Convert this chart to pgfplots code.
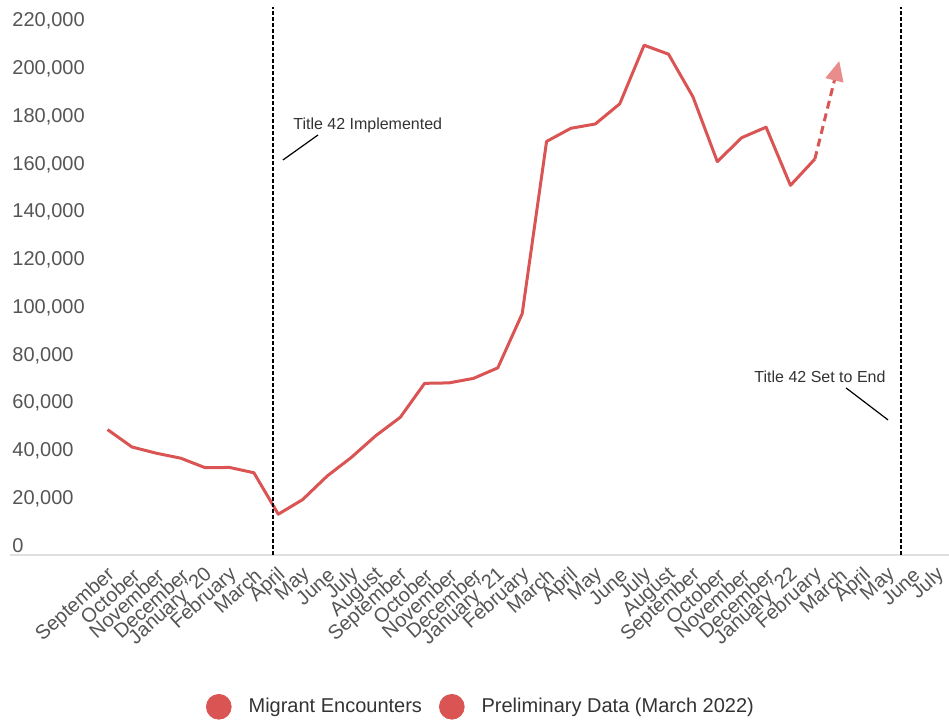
\documentclass[border=0pt]{standalone}
\usepackage{pgfplots}
\pgfplotsset{compat=1.18}
\usepackage{fontspec}
\setmainfont{Liberation Sans}
\usetikzlibrary{arrows.meta}
\definecolor{mred}{HTML}{DA5454}
\definecolor{mpink}{HTML}{E98C8C}
\definecolor{tgray}{HTML}{555555}
\definecolor{agray}{HTML}{333333}
\tikzset{xlab/.style={rotate=42, anchor=east, inner sep=0pt, font=\fontsize{10}{12}\selectfont, text=tgray}}
\newcommand{\xl}[2]{\node[xlab] at ([xshift=2.3pt,yshift=-8.5pt]axis cs:#1,0) {#2};}
\begin{document}
\begin{tikzpicture}
\useasboundingbox (-5pt,-82.5pt) rectangle (469.5pt,277.5pt);
\begin{axis}[
  at={(0,0)}, anchor=south west,
  scale only axis, width=469.5pt, height=274pt,
  xmin=-4, xmax=34.5, ymin=0, ymax=229600,
  axis line style={draw=none},
  major tick length=0pt,
  ytick={0,20000,...,220000},
  yticklabels={0,{20,000},{40,000},{60,000},{80,000},{100,000},{120,000},{140,000},{160,000},{180,000},{200,000},{220,000}},
  yticklabel style={anchor=base west, inner sep=0pt, xshift=1pt, yshift=1.5pt, font=\fontsize{10}{12}\selectfont, text=tgray},
  xtick=\empty,
  legend style={at={(0.5005,-0.277)}, anchor=center, legend columns=2, draw=none, fill=none,
    font=\fontsize{10}{12}\selectfont, text=agray,
    nodes={inner xsep=0pt, inner ysep=1pt},
    /tikz/every odd column/.append style={column sep=8.5pt},
    /tikz/every even column/.append style={column sep=8.5pt}},
  legend image code/.code={\fill[#1] (6.2pt,0pt) circle (6.2pt);},
  clip=false,
]
\draw[gray!25, line width=0.6pt] (rel axis cs:0,0) -- (rel axis cs:1,0);
\addplot[mred, line width=1.5pt, line join=round, forget plot] coordinates {
(0,52546) (1,45250) (2,42649) (3,40565) (4,36585) (5,36687) (6,34460) (7,17106)
(8,23237) (9,33049) (10,40929) (11,50014) (12,57674) (13,71929) (14,72113) (15,73994)
(16,78414) (17,101099) (18,173277) (19,178795) (20,180597) (21,189034) (22,213593)
(23,209840) (24,192001) (25,164837) (26,174845) (27,179253) (28,154874) (29,165900)
};
\addplot[mred, line width=1.5pt, dash pattern=on 4pt off 2.5pt, forget plot,
  -{Triangle[length=10pt, width=9pt, color=mpink, fill=mpink]}] coordinates {
(29,165900) (30,207000)
};
\draw[black, line width=1.2pt, dash pattern=on 2pt off 1pt] (axis cs:6.78,0) -- (axis cs:6.78,229600);
\draw[black, line width=1.2pt, dash pattern=on 2pt off 1pt] (axis cs:32.53,0) -- (axis cs:32.53,229600);
\draw[black, line width=0.6pt] (axis cs:7.19,165500) -- (axis cs:8.63,176000);
\node[anchor=west, inner sep=0pt, font=\fontsize{8}{10}\selectfont, text=agray] at (axis cs:7.6,180200) {Title 42 Implemented};
\draw[black, line width=0.6pt] (axis cs:30.28,70000) -- (axis cs:32.0,56600);
\node[anchor=center, inner sep=0pt, font=\fontsize{8}{10}\selectfont, text=agray] at (axis cs:29.21,74600) {Title 42 Set to End};
\xl{0}{September}\xl{1}{October}\xl{2}{November}\xl{3}{December}\xl{4}{January ’20}
\xl{5}{February}\xl{6}{March}\xl{7}{April}\xl{8}{May}\xl{9}{June}\xl{10}{July}
\xl{11}{August}\xl{12}{September}\xl{13}{October}\xl{14}{November}\xl{15}{December}
\xl{16}{January ’21}\xl{17}{February}\xl{18}{March}\xl{19}{April}\xl{20}{May}
\xl{21}{June}\xl{22}{July}\xl{23}{August}\xl{24}{September}\xl{25}{October}
\xl{26}{November}\xl{27}{December}\xl{28}{January ’22}\xl{29}{February}\xl{30}{March}
\xl{31}{April}\xl{32}{May}\xl{33}{June}\xl{34}{July}
\addlegendimage{mred}
\addlegendentry{Migrant Encounters}
\addlegendimage{mred}
\addlegendentry{Preliminary Data (March 2022)}
\end{axis}
\end{tikzpicture}
\end{document}
